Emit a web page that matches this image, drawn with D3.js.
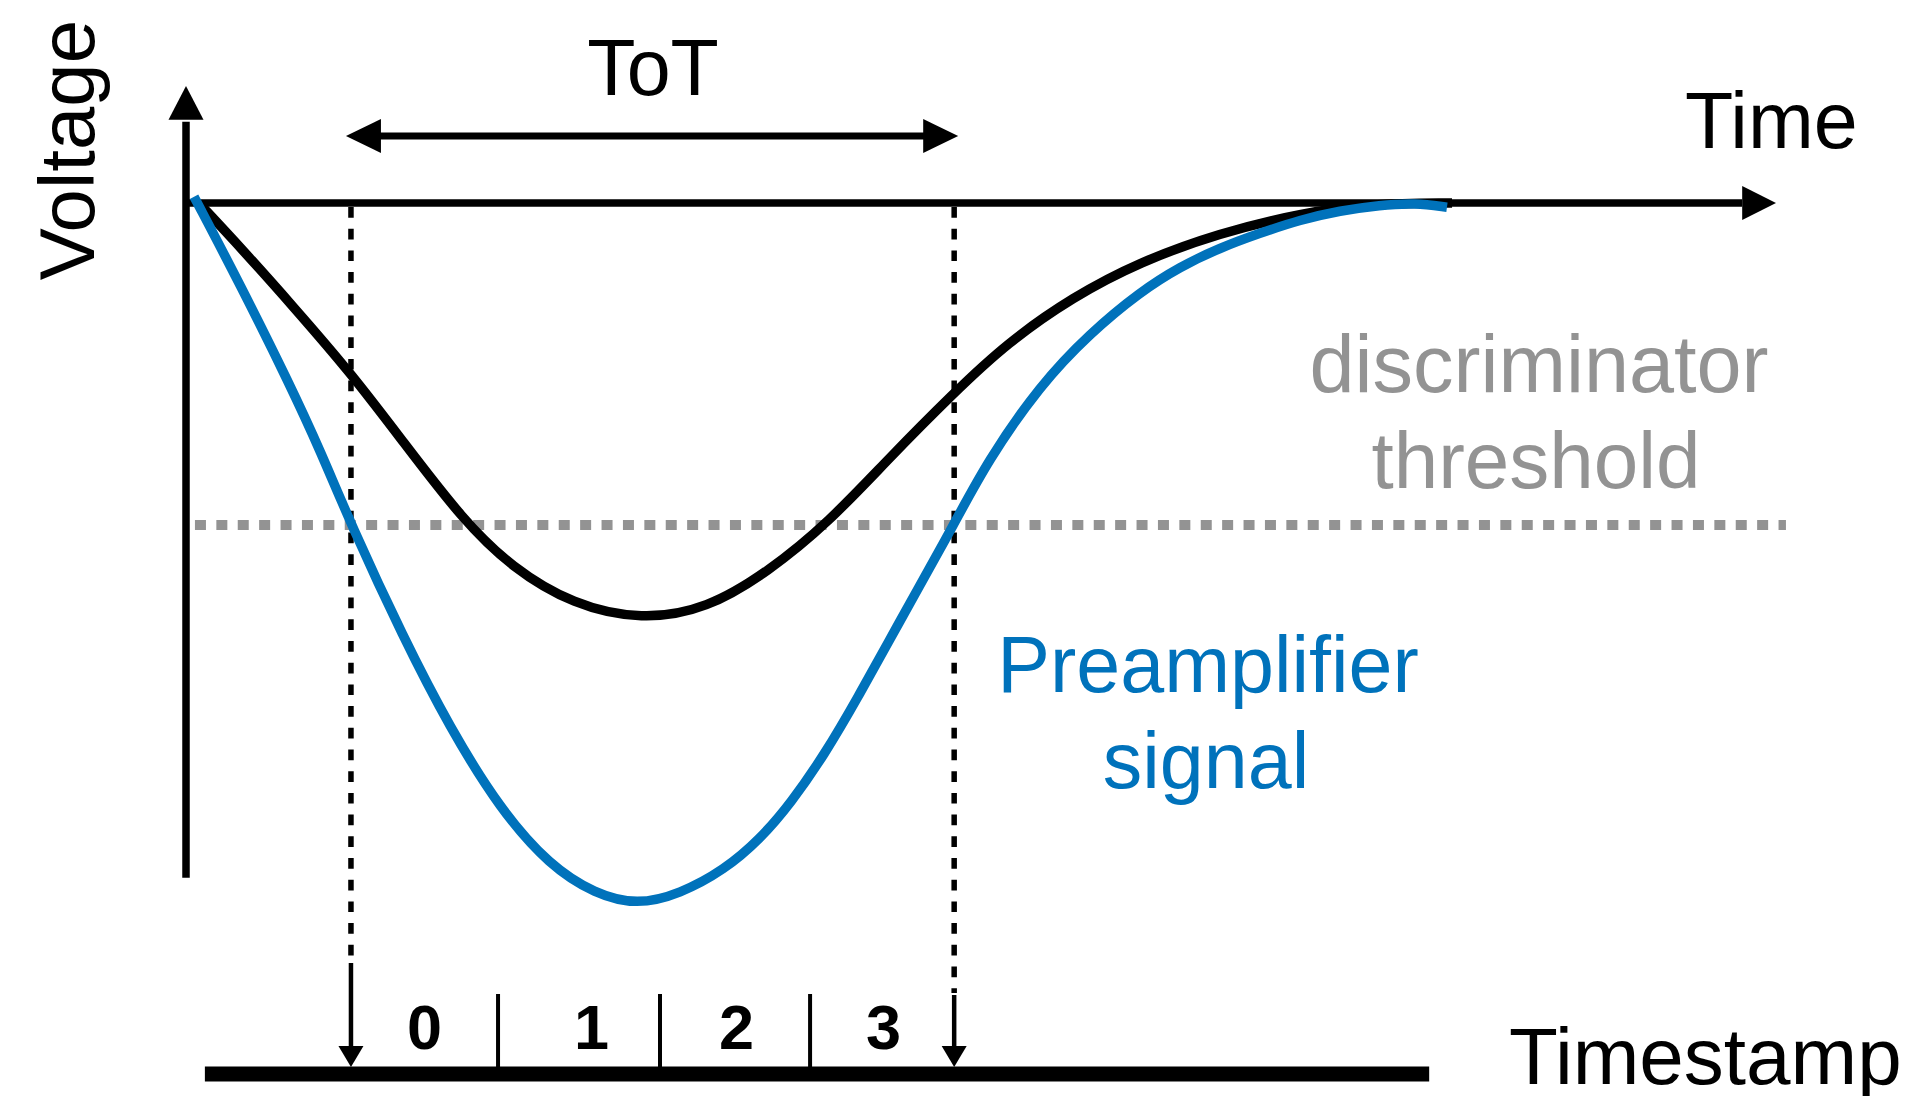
<!DOCTYPE html>
<html>
<head>
<meta charset="utf-8">
<script src="https://cdn.jsdelivr.net/npm/d3@7"></script>
<style>
  html, body { margin: 0; padding: 0; background: #fff; }
  svg { display: block; }
  text { font-family: "Liberation Sans", Arial, Helvetica, sans-serif; }
</style>
</head>
<body>
<svg id="chart" width="1911" height="1096"></svg>
<script>
// ---------------- DATA ----------------
// Shaped (discriminator) signal, black: time (a.u.) and voltage (a.u.)
const shapedTime = [1.3, 5.84, 10.67, 16.6, 21.74, 27.87, 32.81, 38.94, 45.89, 52.43, 58.57, 64.7, 70.84, 77.28, 82.62, 89.26, 96.0, 103.95, 112.3, 119.35, 127.4];
const shapedVolt = [0.0, -0.069, -0.146, -0.243, -0.339, -0.453, -0.521, -0.574, -0.596, -0.580, -0.527, -0.456, -0.363, -0.271, -0.200, -0.134, -0.084, -0.043, -0.014, -0.001, 0.0];

// Preamplifier signal, blue
const preampTime = [0.81, 5.43, 10.47, 13.58, 16.6, 21.84, 26.57, 31.6, 36.63, 41.16, 45.38, 49.71, 54.14, 57.76, 60.88, 64.3, 67.62, 70.84, 73.46, 77.28, 80.6, 85.94, 90.97, 96.0, 100.03, 104.05, 108.08, 112.11, 116.13, 120.15, 123.67, 126.89];
const preampVolt = [0.009, -0.116, -0.260, -0.356, -0.459, -0.620, -0.750, -0.866, -0.947, -0.987, -1.003, -0.987, -0.953, -0.909, -0.857, -0.787, -0.706, -0.623, -0.556, -0.459, -0.370, -0.260, -0.186, -0.127, -0.091, -0.064, -0.043, -0.024, -0.011, -0.003, 0.0, -0.006];

const thresholdVolt = -0.46;
const totStart = 16.6;   // threshold crossing (start of ToT)
const totEnd = 77.3;     // threshold crossing (end of ToT)
const clockEdges = [31.4, 47.7, 62.8];
const timestampLabels = ["0", "1", "2", "3"];
const timestampLabelTimes = [24.0, 40.8, 55.4, 70.2];
const timestampBarRange = [1.9, 125.1];
const thresholdRange = [0.9, 161.0];

// ---------------- LAYOUT ----------------
const svg = d3.select("#chart");
const BLUE = "#0072bb";
const GRAY = "#939393";

const x = d3.scaleLinear().domain([0, 160]).range([186, 1776]);
const y = d3.scaleLinear().domain([-1, 0]).range([903, 203]);

const barY = 1074;
const arrowTipY = 1067;

function tri(points) { return "M" + points.map(p => p.join(",")).join("L") + "Z"; }

// Threshold dotted line
svg.append("line")
  .attr("x1", x(thresholdRange[0])).attr("x2", x(thresholdRange[1]))
  .attr("y1", y(thresholdVolt)).attr("y2", y(thresholdVolt))
  .attr("stroke", GRAY).attr("stroke-width", 10)
  .attr("stroke-dasharray", "11 10.4");

// Vertical dashed lines down to timestamp
const dashEnds = [958, 993];
const solidStarts = [963, 995];
[totStart, totEnd].forEach((t, i) => {
  const xp = x(t);
  svg.append("line")
    .attr("x1", xp).attr("x2", xp)
    .attr("y1", y(0) + 4).attr("y2", dashEnds[i])
    .attr("stroke", "#000").attr("stroke-width", 5.5)
    .attr("stroke-dasharray", "10.7 11");
  svg.append("line")
    .attr("x1", xp).attr("x2", xp)
    .attr("y1", solidStarts[i]).attr("y2", arrowTipY - 18)
    .attr("stroke", "#000").attr("stroke-width", 4.5);
  svg.append("path")
    .attr("d", tri([[xp - 12.5, arrowTipY - 21], [xp + 12.5, arrowTipY - 21], [xp, arrowTipY]]))
    .attr("fill", "#000");
});

// Axes
svg.append("line")
  .attr("x1", x(0)).attr("x2", x(0))
  .attr("y1", y(-0.964)).attr("y2", y(0.119) + 2)
  .attr("stroke", "#000").attr("stroke-width", 7.5);
svg.append("path")
  .attr("d", tri([[x(0) - 17.5, y(0.119)], [x(0) + 17.5, y(0.119)], [x(0), y(0.167)]]))
  .attr("fill", "#000");
svg.append("line")
  .attr("x1", x(0)).attr("x2", x(156.6))
  .attr("y1", y(0)).attr("y2", y(0))
  .attr("stroke", "#000").attr("stroke-width", 7.5);
svg.append("path")
  .attr("d", tri([[x(156.6), y(0) - 17], [x(156.6), y(0) + 17], [x(160), y(0)]]))
  .attr("fill", "#000");

// Curves
const line = d3.line()
  .x(d => x(d[0])).y(d => y(d[1]))
  .curve(d3.curveBasis);

svg.append("path")
  .datum(shapedTime.map((t, i) => [t, shapedVolt[i]]))
  .attr("d", line)
  .attr("fill", "none").attr("stroke", "#000").attr("stroke-width", 9.5);

svg.append("path")
  .datum(preampTime.map((t, i) => [t, preampVolt[i]]))
  .attr("d", line)
  .attr("fill", "none").attr("stroke", BLUE).attr("stroke-width", 9.5);

// ToT double arrow
const totY = 136;
const tL = x(totStart) - 5, tR = x(totEnd) + 4;
svg.append("line")
  .attr("x1", tL + 30).attr("x2", tR - 30)
  .attr("y1", totY).attr("y2", totY)
  .attr("stroke", "#000").attr("stroke-width", 7);
svg.append("path").attr("d", tri([[tL, totY], [tL + 35, totY - 17], [tL + 35, totY + 17]])).attr("fill", "#000");
svg.append("path").attr("d", tri([[tR, totY], [tR - 35, totY - 17], [tR - 35, totY + 17]])).attr("fill", "#000");

// Timestamp bar and clock ticks
svg.append("line")
  .attr("x1", x(timestampBarRange[0])).attr("x2", x(timestampBarRange[1]))
  .attr("y1", barY).attr("y2", barY)
  .attr("stroke", "#000").attr("stroke-width", 15);
svg.selectAll(".clk").data(clockEdges).enter().append("line")
  .attr("class", "clk")
  .attr("x1", d => x(d)).attr("x2", d => x(d))
  .attr("y1", 994).attr("y2", barY)
  .attr("stroke", "#000").attr("stroke-width", 4);
svg.selectAll(".tsl").data(timestampLabels).enter().append("text")
  .attr("class", "tsl")
  .attr("x", (d, i) => x(timestampLabelTimes[i]))
  .attr("y", 1049)
  .attr("text-anchor", "middle")
  .attr("font-size", 63).attr("font-weight", "bold")
  .text(d => d);

// Texts
svg.append("text")
  .attr("transform", "translate(94,150) rotate(-90)")
  .attr("text-anchor", "middle").attr("font-size", 78)
  .text("Voltage");
svg.append("text")
  .attr("x", 653).attr("y", 95).attr("text-anchor", "middle")
  .attr("font-size", 79).text("ToT");
svg.append("text")
  .attr("x", 1685).attr("y", 148).attr("font-size", 79).text("Time");
svg.append("text")
  .attr("x", 1539).attr("y", 392).attr("text-anchor", "middle")
  .attr("font-size", 81).attr("fill", GRAY).text("discriminator");
svg.append("text")
  .attr("x", 1536).attr("y", 488).attr("text-anchor", "middle")
  .attr("font-size", 80).attr("fill", GRAY).text("threshold");
svg.append("text")
  .attr("x", 1208).attr("y", 692).attr("text-anchor", "middle")
  .attr("font-size", 79).attr("fill", BLUE).text("Preamplifier");
svg.append("text")
  .attr("x", 1206).attr("y", 788).attr("text-anchor", "middle")
  .attr("font-size", 79).attr("fill", BLUE).text("signal");
svg.append("text")
  .attr("x", 1509).attr("y", 1084).attr("font-size", 80).text("Timestamp");
</script>
</body>
</html>
